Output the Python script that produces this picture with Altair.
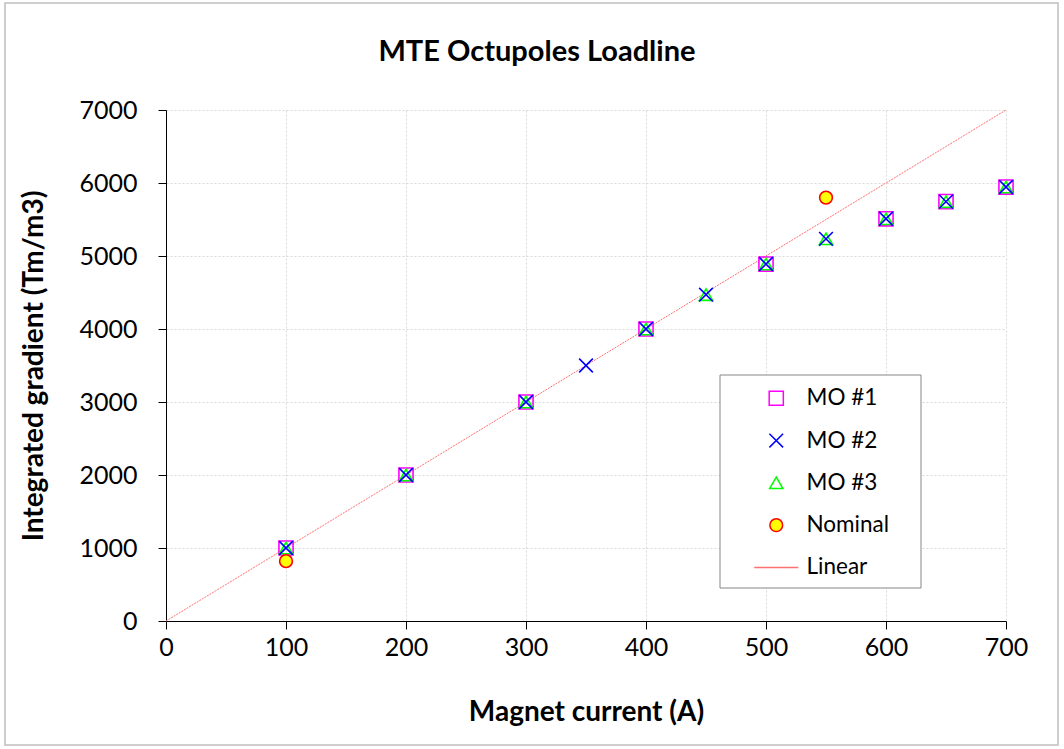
import altair as alt
import pandas as pd

# ---- data ----
mo1_x = [100, 200, 300, 400, 500, 600, 650, 700]
mo1_y = [1000, 2000, 3000, 4000, 4890, 5510, 5745, 5945]
mo2_x = [100, 200, 300, 350, 400, 450, 500, 550, 600, 650, 700]
mo2_y = [1000, 2000, 3000, 3500, 4000, 4470, 4890, 5235, 5510, 5745, 5945]
mo3_x = [100, 200, 300, 400, 450, 500, 550, 600, 650, 700]
mo3_y = [1000, 2000, 3000, 4000, 4470, 4890, 5235, 5510, 5745, 5945]
nom_x = [100, 550]
nom_y = [820, 5800]
lin_x = [0, 700]
lin_y = [0, 7000]

series_names = ["MO #1", "MO #2", "MO #3", "Nominal", "Linear"]
x_ticks = [0, 100, 200, 300, 400, 500, 600, 700]
y_ticks = [0, 1000, 2000, 3000, 4000, 5000, 6000, 7000]
chart_title = "MTE Octupoles Loadline"

# ---- tables ----
rows = []
for name, xs_, ys_ in [("MO #1", mo1_x, mo1_y), ("MO #3", mo3_x, mo3_y),
                       ("MO #2", mo2_x, mo2_y), ("Nominal", nom_x, nom_y)]:
    for a, b in zip(xs_, ys_):
        rows.append({"series": name, "x": a, "y": b})
pts = pd.DataFrame(rows)
line_df = pd.DataFrame({"series": "Linear", "x": lin_x, "y": lin_y})

FONT = "Lato"
X_PATH = "M-1,-1L1,1M-1,1L1,-1"
LINE_PATH = "M-3.6,0L3.6,0"

stroke_scale = alt.Scale(domain=series_names,
                         range=["#FF00FF", "#0000FF", "#00FF00", "#FF0000", "#FF7070"])
shape_scale = alt.Scale(domain=series_names,
                        range=["square", X_PATH, "triangle-up", "circle", LINE_PATH])
fill_scale = alt.Scale(domain=series_names,
                       range=["transparent", "transparent", "transparent", "#FFFF00", "transparent"])
size_scale = alt.Scale(domain=series_names, range=[200, 150, 215, 225, 196])

xs = alt.Scale(domain=[0, 700], nice=False, zero=False)
ys = alt.Scale(domain=[0, 7000], nice=False, zero=False)

x_axis = alt.Axis(title="Magnet current (A)", values=x_ticks, format="d", labelFlush=False)
y_axis = alt.Axis(title="Integrated gradient (Tm/m3)", values=y_ticks, format="d", labelFlush=False)

leg = alt.Legend(title=None)

line = alt.Chart(line_df).mark_line(strokeWidth=1, strokeDash=[2, 1]).encode(
    x=alt.X("x:Q", scale=xs, axis=x_axis),
    y=alt.Y("y:Q", scale=ys, axis=y_axis),
    stroke=alt.Stroke("series:N", scale=stroke_scale, legend=leg),
)

points = alt.Chart(pts).mark_point(filled=True, opacity=1, strokeWidth=1.6).encode(
    x=alt.X("x:Q", scale=xs),
    y=alt.Y("y:Q", scale=ys),
    stroke=alt.Stroke("series:N", scale=stroke_scale, legend=leg),
    shape=alt.Shape("series:N", scale=shape_scale, legend=leg),
    fill=alt.Fill("series:N", scale=fill_scale, legend=leg),
    size=alt.Size("series:N", scale=size_scale, legend=leg),
)

# legend frame, outer chart frame and title text (decorations)
one = pd.DataFrame({"k": [0]})
legend_box = alt.Chart(one).mark_rect(
    fill="white", stroke="#868686", strokeWidth=1).encode(
    x=alt.value(554), x2=alt.value(755), y=alt.value(265), y2=alt.value(478))
outer_box = alt.Chart(one).mark_rect(
    fill=None, stroke="#BFBFBF", strokeWidth=1.5).encode(
    x=alt.value(-161), x2=alt.value(892), y=alt.value(-107), y2=alt.value(635))
title_mark = alt.Chart(one).mark_text(
    text=chart_title, font=FONT, fontSize=29, fontWeight="bold", color="black",
    align="center", baseline="alphabetic").encode(
    x=alt.value(371), y=alt.value(-49))

chart = alt.layer(outer_box, line, legend_box, points, title_mark).properties(
    width=840, height=511,
    padding={"left": 166, "top": 110, "right": 58, "bottom": 128},
    autosize=alt.AutoSizeParams(type="none"),
).configure_view(stroke=None).configure_axis(
    labelFont=FONT, labelFontSize=25, labelColor="black",
    titleFont=FONT, titleFontSize=28, titleFontWeight="bold", titleColor="black",
    gridColor="#D9D9D9", gridDash=[2, 2], gridWidth=1,
    domainColor="#000000", tickColor="#000000", tickSize=8, domainWidth=1,
).configure_axisY(
    labelPadding=21, titlePadding=30,
).configure_axisX(
    labelPadding=6, titlePadding=38,
).configure_legend(
    orient="none", legendX=554, legendY=265, padding=12,
    labelFont=FONT, labelFontSize=22.5, labelColor="black",
    rowPadding=19.3, symbolStrokeWidth=1.5, labelOffset=19,
    symbolOffset=33, strokeColor=None,
)

chart.save("out.html", embed_options={"renderer": "svg", "actions": False})
